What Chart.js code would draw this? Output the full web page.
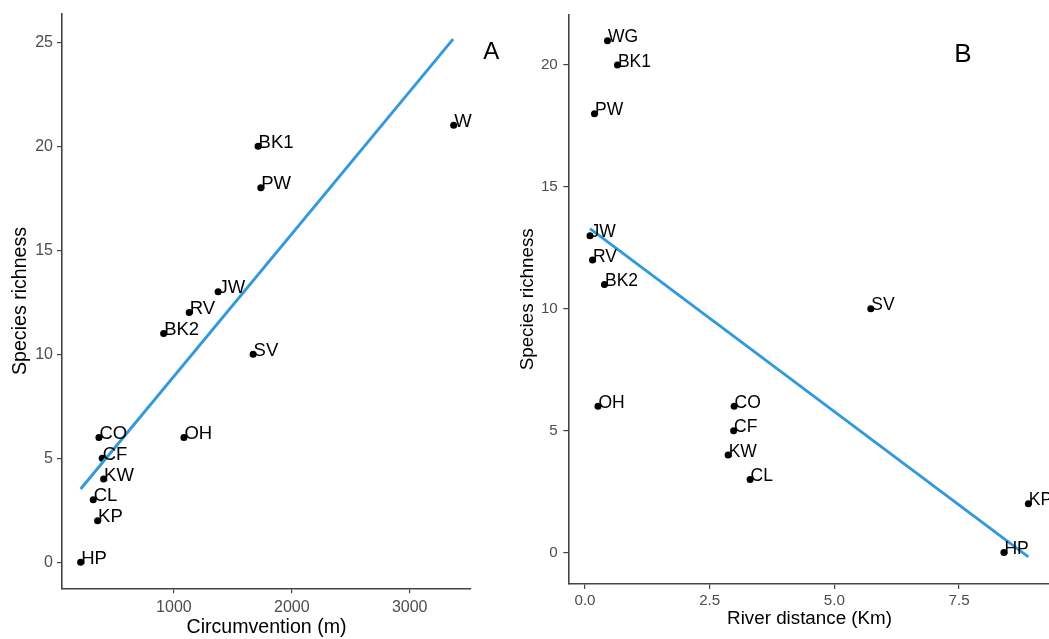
<!DOCTYPE html>
<html>
<head>
<meta charset="utf-8">
<script src="https://cdn.jsdelivr.net/npm/chart.js@4/dist/chart.umd.min.js"></script>
<style>
  html, body { margin: 0; padding: 0; background: #fff; overflow: hidden; width: 1049px; height: 639px; }
  .panel { position: absolute; top: 0; }
  #wrapA { left: 0; }
  #wrapB { left: 510px; }
  canvas { display: block; }
</style>
</head>
<body>
<div class="panel" id="wrapA"><canvas id="chartA" width="510" height="639"></canvas></div>
<div class="panel" id="wrapB"><canvas id="chartB" width="560" height="639"></canvas></div>
<script>
// Panel A: species richness against circumvention of each site
const sitesA = ['HP', 'KP', 'CL', 'KW', 'CF', 'CO', 'OH', 'SV', 'BK2', 'RV', 'JW', 'PW', 'BK1', 'W'];
const circumvention = [209, 353, 316, 404, 392, 364, 1085, 1672, 913, 1130, 1375, 1737, 1714, 3373];
const richnessA = [0, 2, 3, 4, 5, 6, 6, 10, 11, 12, 13, 18, 20, 21];
// linear fit, end points
const fitCircumvention = [209, 3368];
const fitRichnessA = [3.52, 25.14];
const ticksCircumvention = [1000, 2000, 3000];
const ticksRichnessA = [0, 5, 10, 15, 20, 25];

// Panel B: species richness against river distance
const sitesB = ['WG', 'BK1', 'PW', 'JW', 'RV', 'BK2', 'SV', 'OH', 'CO', 'CF', 'KW', 'CL', 'KP', 'HP'];
const riverDistance = [0.45, 0.65, 0.19, 0.10, 0.15, 0.39, 5.73, 0.26, 2.99, 2.98, 2.87, 3.31, 8.89, 8.40];
const richnessB = [21, 20, 18, 13, 12, 11, 10, 6, 6, 5, 4, 3, 2, 0];
const fitRiverDistance = [0.10, 8.89];
const fitRichnessB = [13.29, -0.18];
const ticksRiver = [0, 2.5, 5, 7.5];
const ticksRichnessB = [0, 5, 10, 15, 20];

const FONT = '"Liberation Sans", Arial, Helvetica, sans-serif';
const AXIS_COLOR = '#444';
const TICK_TEXT = '#4d4d4d';
const FIT_COLOR = '#3399dd';

const toPoints = (xs, ys) => xs.map((x, i) => ({ x: x, y: ys[i] }));

// Writes each site's name beside its point, plus the panel letter
const siteLabels = {
  id: 'siteLabels',
  afterDatasetsDraw(chart, args, opts) {
    const ctx = chart.ctx;
    const meta = chart.getDatasetMeta(opts.datasetIndex);
    ctx.save();
    ctx.fillStyle = '#000';
    ctx.font = opts.size + 'px ' + FONT;
    ctx.textAlign = 'left';
    ctx.textBaseline = 'alphabetic';
    meta.data.forEach((pt, i) => {
      ctx.fillText(opts.labels[i], pt.x + 0.5, pt.y + 1.5);
    });
    ctx.font = opts.letterSize + 'px ' + FONT;
    ctx.textAlign = 'center';
    const area = chart.chartArea;
    ctx.fillText(opts.letter, area.right + opts.letterDx, area.top + opts.letterDy);
    ctx.restore();
  }
};

function makeChart(canvasId, p) {
  return new Chart(document.getElementById(canvasId), {
    type: 'scatter',
    data: {
      datasets: [
        {
          type: 'line',
          data: toPoints(p.fitX, p.fitY),
          borderColor: FIT_COLOR,
          borderWidth: 2.9,
          pointRadius: 0,
          fill: false,
          order: 0
        },
        {
          type: 'scatter',
          data: toPoints(p.x, p.y),
          backgroundColor: '#000',
          borderColor: '#000',
          borderWidth: 0,
          pointRadius: 3.5,
          order: 1
        }
      ]
    },
    options: {
      responsive: false,
      animation: false,
      events: [],
      layout: { padding: p.padding },
      plugins: {
        legend: { display: false },
        tooltip: { enabled: false },
        siteLabels: {
          datasetIndex: 1,
          labels: p.labels,
          size: p.labelSize,
          letter: p.letter,
          letterSize: p.letterSize,
          letterDx: p.letterDx,
          letterDy: p.letterDy
        }
      },
      scales: {
        x: {
          type: 'linear',
          position: 'bottom',
          min: p.xMin,
          max: p.xMax,
          afterBuildTicks: s => { s.ticks = p.xTicks.map(v => ({ value: v })); },
          afterFit: s => { s.height = p.xAxisHeight; },
          ticks: {
            callback: p.xFormat,
            color: TICK_TEXT,
            font: { family: FONT, size: p.tickSize },
            padding: p.xTickPad,
            maxRotation: 0,
            autoSkip: false
          },
          grid: { display: true, drawOnChartArea: false, drawTicks: true, tickLength: 5, color: AXIS_COLOR, lineWidth: 1.2 },
          border: { display: true, color: AXIS_COLOR, width: 1.6 },
          title: {
            display: true,
            text: p.xTitle,
            color: '#000',
            font: { family: FONT, size: p.titleSize, lineHeight: 1.2 },
            padding: { top: 0, bottom: p.xTitlePad }
          }
        },
        y: {
          type: 'linear',
          position: 'left',
          min: p.yMin,
          max: p.yMax,
          afterBuildTicks: s => { s.ticks = p.yTicks.map(v => ({ value: v })); },
          afterFit: s => { s.width = p.yAxisWidth; },
          ticks: {
            callback: v => String(v),
            color: TICK_TEXT,
            font: { family: FONT, size: p.tickSize },
            padding: p.yTickPad,
            autoSkip: false
          },
          grid: { display: true, drawOnChartArea: false, drawTicks: true, tickLength: 5, color: AXIS_COLOR, lineWidth: 1.2 },
          border: { display: true, color: AXIS_COLOR, width: 1.6 },
          title: {
            display: true,
            text: 'Species richness',
            color: '#000',
            font: { family: FONT, size: p.titleSize, lineHeight: 1.2 },
            padding: { top: p.yTitlePad, bottom: 0 }
          }
        }
      }
    },
    plugins: [siteLabels]
  });
}

makeChart('chartA', {
  x: circumvention, y: richnessA, labels: sitesA,
  fitX: fitCircumvention, fitY: fitRichnessA,
  xMin: 51, xMax: 3520, yMin: -1.25, yMax: 26.37,
  xTicks: ticksCircumvention, yTicks: ticksRichnessA,
  xFormat: v => String(v),
  xTitle: 'Circumvention (m)',
  padding: { top: 12.7, right: 39, bottom: 0, left: 0 },
  xAxisHeight: 50.7, yAxisWidth: 62,
  tickSize: 16, titleSize: 19.6, labelSize: 18.5,
  xTickPad: 4.2, yTickPad: 4, xTitlePad: 0, yTitlePad: 9,
  letter: 'A', letterSize: 24, letterDx: 20.3, letterDy: 45.6
});

makeChart('chartB', {
  x: riverDistance, y: richnessB, labels: sitesB,
  fitX: fitRiverDistance, fitY: fitRichnessB,
  xMin: -0.335, xMax: 9.34, yMin: -1.29, yMax: 22.07,
  xTicks: ticksRiver, yTicks: ticksRichnessB,
  xFormat: v => v.toFixed(1),
  xTitle: 'River distance (Km)',
  padding: { top: 11.7, right: 19.2, bottom: 0, left: 0 },
  xAxisHeight: 55, yAxisWidth: 58.3,
  tickSize: 15.2, titleSize: 18.8, labelSize: 17.5,
  xTickPad: 2.3, yTickPad: 5.5, xTitlePad: 8.5, yTitlePad: 7,
  letter: 'B', letterSize: 26, letterDx: -88, letterDy: 47.6
});
</script>
</body>
</html>
